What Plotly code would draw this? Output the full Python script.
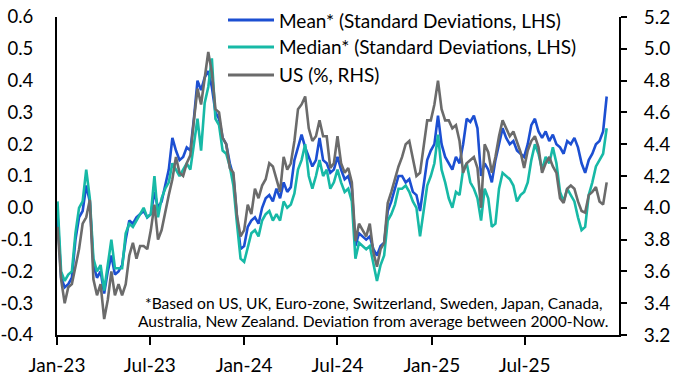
import pandas as pd
import plotly.graph_objects as go

# ---------------- data (weekly, Mondays from 2 Jan 2023) ----------------
dates = pd.date_range("2023-01-02", periods=154, freq="7D")

mean_2023 = [-0.02, -0.22, -0.25, -0.24, -0.22,
             -0.10, -0.03, -0.01, 0.07,
             0.02, -0.18, -0.22, -0.20,
             -0.27, -0.20, -0.15, -0.21,
             -0.20, -0.18, -0.10, -0.04, -0.05,
             -0.03, -0.02, -0.01, -0.03,
             -0.02, 0.05, 0.00, 0.02, 0.07,
             0.12, 0.22, 0.18, 0.15,
             0.16, 0.19, 0.18, 0.28,
             0.40, 0.37, 0.41, 0.43, 0.38,
             0.30, 0.28, 0.22, 0.20,
             0.14, 0.10, -0.03, -0.13]
mean_2024 = [-0.12, -0.06, -0.04, -0.03, -0.05,
             0.00, 0.03, 0.04, 0.02,
             0.06, 0.03, 0.08, 0.05,
             0.065, 0.15, 0.19, 0.23, 0.19,
             0.16, 0.13, 0.15, 0.22,
             0.15, 0.14, 0.11, 0.12,
             0.16, 0.12, 0.09, 0.10, 0.06,
             -0.12, -0.08, -0.09, -0.10,
             -0.09, -0.13, -0.15, -0.12, -0.11,
             -0.01, 0.02, 0.06, 0.10,
             0.10, 0.08, 0.09, 0.05,
             0.04, -0.01, 0.07, 0.15, 0.18]
mean_2025 = [0.20, 0.29, 0.20, 0.16,
             0.14, 0.12, 0.16, 0.14,
             0.20, 0.28, 0.27, 0.29, 0.25,
             0.10, 0.14, 0.12, 0.08,
             0.15, 0.20, 0.25, 0.22,
             0.20, 0.21, 0.18, 0.17, 0.16,
             0.20, 0.26, 0.28, 0.24,
             0.22, 0.24, 0.21, 0.23,
             0.20, 0.19, 0.17, 0.21, 0.20,
             0.22, 0.19, 0.14, 0.11,
             0.15, 0.17, 0.20, 0.21,
             0.24, 0.35]

median_2023 = [0.02, -0.20, -0.23, -0.21, -0.20,
               -0.08, 0.00, 0.02, 0.12,
               0.03, -0.16, -0.20, -0.18,
               -0.26, -0.18, -0.10, -0.19,
               -0.19, -0.19, -0.08, -0.05, -0.06,
               -0.04, -0.02, 0.00, -0.03,
               -0.02, 0.10, -0.03, 0.03, 0.06,
               0.08, 0.14, 0.12, 0.10,
               0.12, 0.14, 0.12, 0.20,
               0.28, 0.18, 0.33, 0.38, 0.47,
               0.28, 0.26, 0.18, 0.17,
               0.13, 0.07, -0.05, -0.16]
median_2024 = [-0.17, -0.12, -0.08, -0.07, -0.09,
               -0.04, -0.02, -0.01, -0.04,
               -0.02, -0.04, 0.02, 0.00,
               0.01, 0.045, 0.12, 0.15, 0.20,
               0.10, 0.06, 0.10, 0.15,
               0.10, 0.12, 0.06, 0.08,
               0.12, 0.08, 0.05, 0.06, 0.02,
               -0.16, -0.11, -0.12, -0.13,
               -0.12, -0.17, -0.23, -0.18, -0.15,
               -0.04, -0.02, 0.01, 0.06,
               0.06, 0.07, 0.05, 0.02,
               0.00, -0.09, -0.01, 0.07, 0.10]
median_2025 = [0.14, 0.23, 0.12, 0.08,
               0.03, 0.00, 0.05, 0.04,
               0.12, 0.14, 0.08, 0.06, 0.03,
               -0.04, 0.06, 0.03, -0.06,
               -0.05, 0.06, 0.11, 0.10,
               0.09, 0.07, 0.02, 0.04, 0.05,
               0.08, 0.15, 0.20, 0.17,
               0.12, 0.16, 0.14, 0.19,
               0.14, 0.05, 0.02, 0.06, 0.04,
               0.02, -0.03, -0.07, -0.06,
               0.04, 0.08, 0.13, 0.15,
               0.17, 0.25]

us_2023 = [3.88, 3.55, 3.40, 3.50, 3.52,
           3.62, 3.74, 3.90, 3.94,
           4.05, 3.55, 3.45, 3.52,
           3.30, 3.42, 3.60, 3.45,
           3.52, 3.45, 3.52, 3.70, 3.78,
           3.68, 3.76, 3.76, 3.74,
           3.86, 4.02, 3.80, 3.86, 3.98,
           4.08, 4.18, 4.32, 4.22,
           4.20, 4.28, 4.33, 4.55,
           4.75, 4.65, 4.80, 4.98, 4.85,
           4.62, 4.60, 4.44, 4.40,
           4.25, 4.22, 3.95, 3.82]
us_2024 = [3.86, 4.02, 3.96, 4.12, 4.06,
           4.14, 4.18, 4.28, 4.26,
           4.18, 4.10, 4.32, 4.24,
           4.28, 4.42, 4.62, 4.65, 4.70,
           4.50, 4.42, 4.45, 4.55,
           4.45, 4.45, 4.25, 4.28,
           4.45, 4.28, 4.22, 4.25, 4.16,
           3.79, 3.90, 3.86, 3.82,
           3.90, 3.72, 3.63, 3.74, 3.78,
           4.03, 4.10, 4.18, 4.26,
           4.32, 4.40, 4.42, 4.30,
           4.20, 4.22, 4.40, 4.55, 4.55]
us_2025 = [4.65, 4.80, 4.62, 4.55,
           4.55, 4.50, 4.52, 4.42,
           4.22, 4.28, 4.30, 4.32, 4.25,
           4.00, 4.40, 4.35, 4.22,
           4.32, 4.45, 4.55, 4.50,
           4.45, 4.48, 4.42, 4.35, 4.25,
           4.36, 4.42, 4.45, 4.38,
           4.22, 4.28, 4.32, 4.26,
           4.22, 4.06, 4.03, 4.12, 4.14,
           4.12, 4.04, 3.98, 3.97,
           4.08, 4.10, 4.13, 4.04,
           4.02, 4.16]

mean_sd = mean_2023 + mean_2024 + mean_2025
median_sd = median_2023 + median_2024 + median_2025
us_pct = us_2023 + us_2024 + us_2025

series_names = ["Mean* (Standard Deviations, LHS)",
                "Median* (Standard Deviations, LHS)",
                "US (%, RHS)"]

x_tick_dates = ["2023-01-01", "2023-07-01", "2024-01-01", "2024-07-01", "2025-01-01", "2025-07-01"]
x_tick_labels = ["Jan-23", "Jul-23", "Jan-24", "Jul-24", "Jan-25", "Jul-25"]
left_tick_vals = [-0.4, -0.3, -0.2, -0.1, 0.0, 0.1, 0.2, 0.3, 0.4, 0.5, 0.6]
left_tick_labels = ["-0.4", "-0.3", "-0.2", "-0.1", "0.0", "0.1", "0.2", "0.3", "0.4", "0.5", "0.6"]
right_tick_vals = [3.2, 3.4, 3.6, 3.8, 4.0, 4.2, 4.4, 4.6, 4.8, 5.0, 5.2]
right_tick_labels = ["3.2", "3.4", "3.6", "3.8", "4.0", "4.2", "4.4", "4.6", "4.8", "5.0", "5.2"]

footnote_lines = ["*Based on US, UK, Euro-zone, Switzerland, Sweden, Japan, Canada,",
                  "Australia, New Zealand. Deviation from average between 2000-Now."]

# ---------------- styling ----------------
BLUE = "#1c4fd2"
TEAL = "#17b9a6"
GRAY = "#6b6b6b"
FONT = "Lato"

W, H = 675, 378
PL, PR, PT, PB = 57, 619, 17, 335  # plot area in px


def px_x(p):
    return (p - PL) / (PR - PL)


def px_y(p):
    return (PB - p) / (PB - PT)


fig = go.Figure()
fig.add_trace(go.Scatter(x=dates, y=mean_sd, name=series_names[0], mode="lines",
                         line=dict(color=BLUE, width=2.6), yaxis="y"))
fig.add_trace(go.Scatter(x=dates, y=median_sd, name=series_names[1], mode="lines",
                         line=dict(color=TEAL, width=2.6), yaxis="y"))
fig.add_trace(go.Scatter(x=dates, y=us_pct, name=series_names[2], mode="lines",
                         line=dict(color=GRAY, width=2.6), yaxis="y2"))

fig.update_layout(
    width=W, height=H,
    margin=dict(l=PL, r=W - PR, t=PT, b=H - PB, autoexpand=False),
    plot_bgcolor="white", paper_bgcolor="white",
    showlegend=False,
    font=dict(family=FONT, size=19, color="black"),
    xaxis=dict(type="date", range=["2023-01-01", "2026-01-01"],
               tickvals=x_tick_dates, ticktext=x_tick_labels,
               ticks="outside", ticklen=8, tickwidth=2, tickcolor="black",
               showline=True, linecolor="black", linewidth=2, automargin=False,
               showgrid=False, zeroline=False, ticklabelstandoff=4),
    yaxis=dict(range=[-0.4, 0.6], tickvals=left_tick_vals, ticktext=left_tick_labels,
               ticks="", showline=True, linecolor="black", linewidth=2, automargin=False,
               showgrid=False, zeroline=False, ticklabelstandoff=18,
               tickfont=dict(family=FONT, size=18.5, color="black")),
    yaxis2=dict(range=[3.2, 5.2], tickvals=right_tick_vals, ticktext=right_tick_labels,
                overlaying="y", side="right", automargin=False,
                ticks="outside", ticklen=6, tickwidth=2, tickcolor="black",
                showline=True, linecolor="black", linewidth=2,
                showgrid=False, zeroline=False, ticklabelstandoff=13),
)

# manual legend
legend_rows_px = [20, 47, 75]
colors = [BLUE, TEAL, GRAY]
for name, col, ypx in zip(series_names, colors, legend_rows_px):
    fig.add_shape(type="line", xref="paper", yref="paper",
                  x0=px_x(228), x1=px_x(274), y0=px_y(ypx), y1=px_y(ypx),
                  line=dict(color=col, width=3))
    fig.add_annotation(xref="paper", yref="paper", x=px_x(277), y=px_y(ypx),
                       text=name, showarrow=False, xanchor="left", yanchor="middle",
                       font=dict(family=FONT, size=19, color="black"))

# footnote
for line, ypx in zip(footnote_lines, [303, 321]):
    fig.add_annotation(xref="paper", yref="paper", x=px_x(373), y=px_y(ypx),
                       text=line, showarrow=False, xanchor="center", yanchor="middle",
                       font=dict(family=FONT, size=15.6, color="black"))

fig.write_html("out.html",
               config={"displayModeBar": False},
               post_script="document.body.style.margin='0';document.body.style.overflow='hidden';")
